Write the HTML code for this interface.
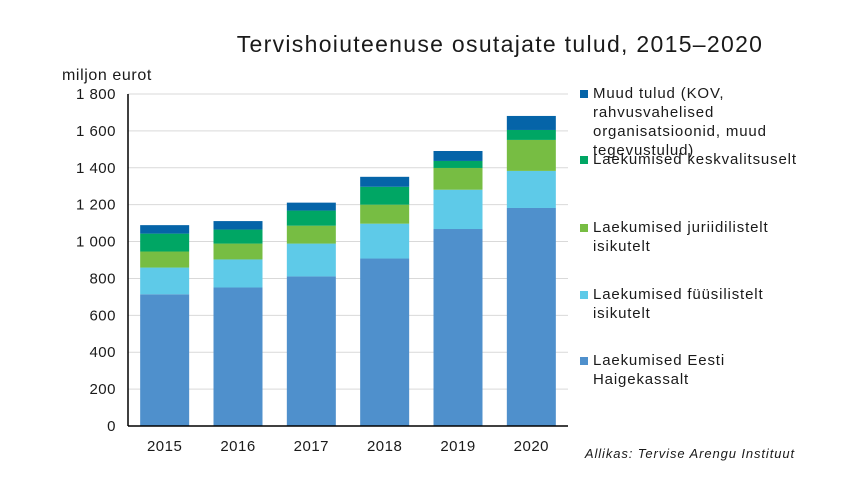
<!DOCTYPE html>
<html><head><meta charset="utf-8"><style>
body{margin:0;background:#fff;font-family:"Liberation Sans",sans-serif;}
svg text{font-family:"Liberation Sans",sans-serif;fill:#1a1a1a;}
</style></head><body>
<svg id="chart" width="865" height="489">
<text x="500" y="52" font-size="23" letter-spacing="1.3" text-anchor="middle">Tervishoiuteenuse osutajate tulud, 2015–2020</text>
<text x="62" y="80" font-size="16" letter-spacing="0.6">miljon eurot</text>
<g id="grid"></g><g id="bars"></g><g id="axes"></g><g id="legend"></g>
<text x="795" y="458" font-size="13" letter-spacing="0.9" font-style="italic" text-anchor="end">Allikas: Tervise Arengu Instituut</text>
</svg>
<script>
const categories=["2015","2016","2017","2018","2019","2020"];
const haigekassa=[714,751,811,908,1068,1182];
const fuusilised=[145,152,178,189,213,201];
const juriidilised=[87,86,97,103,118,168];
const keskvalitsus=[97,76,82,97,38,54];
const muud=[46,46,43,54,54,76];
const yTicks=[0,200,400,600,800,1000,1200,1400,1600,1800];
const yTickLabels=["0","200","400","600","800","1 000","1 200","1 400","1 600","1 800"];
const series=[haigekassa,fuusilised,juriidilised,keskvalitsus,muud];
const colors=["#4f90cc","#5ecae8","#77bd43","#00a664","#0564a8"];
const NS="http://www.w3.org/2000/svg";
const x0=128,x1=568,yBase=426,yTop=94,maxV=1800;
const y=v=>yBase-(v/maxV)*(yBase-yTop);
const band=(x1-x0)/categories.length;
const xc=i=>x0+band*(i+0.5);
const bw=49;
function mk(t,a,p){const e=document.createElementNS(NS,t);for(const k in a)e.setAttribute(k,a[k]);p.appendChild(e);return e;}
const grid=document.getElementById('grid'),bars=document.getElementById('bars'),axes=document.getElementById('axes'),legend=document.getElementById('legend');
yTicks.forEach((v,i)=>{
 if(v>0){const l=mk('line',{x1:x0,x2:x1,y1:y(v),y2:y(v),stroke:'#d9d9d9','stroke-width':1},grid);
 
 }
 const t=mk('text',{x:116,y:y(v)+5,'font-size':15,'letter-spacing':0.5,'text-anchor':'end'},axes);t.textContent=yTickLabels[i];
 
 
});
categories.forEach((c,i)=>{
 let cum=0;
 series.forEach((s,j)=>{
  const r=mk('rect',{x:xc(i)-bw/2,y:y(cum+s[i]),width:bw,height:y(cum)-y(cum+s[i]),fill:colors[j]},bars);
  
  
  cum+=s[i];
 });
 const t=mk('text',{x:xc(i),y:451,'font-size':15,'letter-spacing':0.5,'text-anchor':'middle'},axes);t.textContent=c;
 
 
});
const ax=mk('line',{x1:x0,x2:x0,y1:yTop,y2:yBase,stroke:'#000','stroke-width':1.5},axes);


const bx=mk('line',{x1:x0,x2:x1,y1:yBase,y2:yBase,stroke:'#000','stroke-width':1.5},axes);


const legLines=[["Muud tulud (KOV,","rahvusvahelised","organisatsioonid, muud","tegevustulud)"],["Laekumised keskvalitsuselt"],["Laekumised juriidilistelt","isikutelt"],["Laekumised füüsilistelt","isikutelt"],["Laekumised Eesti","Haigekassalt"]];
const legY=[98,164,232,299,365];
legLines.forEach((lines,k)=>{
 const j=4-k;
 const g=mk('g',{},legend);
 
 
 mk('rect',{x:580,y:legY[k]-8,width:8,height:8,fill:colors[j]},g);
 lines.forEach((ln,m)=>{const t=mk('text',{x:593,y:legY[k]+m*19,'font-size':15,'letter-spacing':0.85},g);t.textContent=ln;});
});
</script>
</body></html>
